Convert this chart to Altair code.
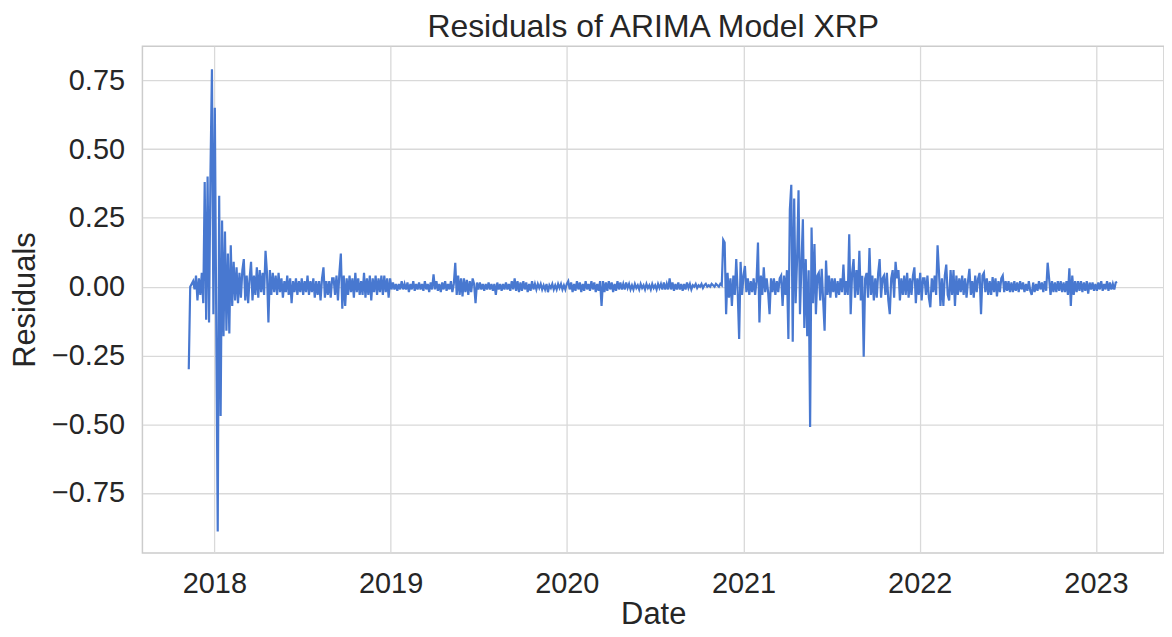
import altair as alt
import pandas as pd

# Residual values, one every 3 days starting 2017-11-09
res_2017_2018 = [
    -0.30, 0.00, 0.01, 0.02, -0.01, 0.04, -0.05, 0.03, -0.03, 0.05,
    -0.06, 0.38, -0.12, 0.40, -0.13, 0.42, 0.79, -0.10, 0.65, -0.15,
    -0.89, 0.33, -0.47, 0.24, -0.18, 0.20, -0.16, 0.12, -0.17, 0.15,
    -0.07, 0.09, -0.05, 0.07, -0.06, 0.05, -0.04, 0.06, 0.10, -0.05,
    0.04, -0.06, 0.03, 0.09, -0.05, 0.04, -0.03, 0.07, -0.04, 0.06,
    -0.02, 0.05, -0.03, 0.13, 0.05, -0.13, 0.06, -0.03, 0.05, -0.02,
    0.04, -0.03, 0.05, -0.02, 0.03, -0.04, 0.02, -0.02, 0.04, -0.03,
    0.03, -0.06, 0.02, -0.02, 0.03, -0.03, 0.02, -0.02, 0.03, -0.03,
    0.02, -0.02, 0.04, -0.03, 0.02, -0.02, 0.03, -0.04, 0.02, -0.03,
    0.02, -0.05, 0.03, 0.07, -0.04, 0.02, -0.03, 0.02, -0.04, 0.03,
    0.03, -0.03, 0.04, -0.05, 0.05, 0.12, -0.08, 0.04, -0.07, 0.03,
    -0.03, 0.04, -0.02, 0.03, -0.04, 0.05, -0.02, 0.03, -0.03, 0.02,
    -0.03, 0.05, -0.04, 0.03, -0.03, 0.04, -0.05, 0.03, -0.02, 0.04,
    -0.03, 0.03, -0.02, 0.04, -0.03, 0.04, -0.02, 0.03, -0.04, 0.03,
]
res_2019 = [
    -0.01, 0.015, -0.01, 0.01, -0.015, 0.01, -0.01, 0.02, -0.01, 0.01,
    -0.01, 0.015, -0.02, 0.01, -0.01, 0.02, -0.015, 0.01, -0.01, 0.015,
    -0.01, 0.01, -0.015, 0.02, -0.01, 0.01, -0.02, 0.015, -0.01, 0.045,
    -0.01, 0.02, -0.015, 0.01, -0.02, 0.015, -0.01, 0.02, -0.015, 0.01,
    -0.01, 0.02, -0.02, 0.01, 0.087, -0.03, 0.04, -0.03, 0.03, -0.035,
    0.03, -0.02, 0.025, -0.03, 0.02, -0.02, 0.03, 0.01, -0.06, 0.015,
    -0.01, 0.015, -0.01, 0.01, -0.015, 0.01, -0.01, 0.015, -0.01, 0.01,
    -0.015, 0.01, -0.03, 0.015, -0.01, 0.01, -0.015, 0.01, -0.01, 0.015,
    -0.01, 0.01, -0.015, 0.02, -0.01, 0.03, -0.015, 0.02, -0.02, 0.015,
    -0.015, 0.02, -0.01, 0.015, -0.02, 0.01, -0.015, 0.02, -0.01, 0.01,
    -0.01, 0.01, -0.005, 0.01, -0.01, 0.005, -0.01, 0.01, -0.02, 0.005,
    -0.005, 0.01, -0.01, 0.005, -0.01, 0.01, -0.005, 0.01, -0.01, 0.005,
]
res_2020 = [
    -0.01, 0.01, 0.02, -0.01, 0.015, -0.02, 0.01, -0.015, 0.02, -0.01,
    0.015, -0.02, 0.01, -0.015, 0.02, -0.01, 0.01, -0.015, 0.02, -0.01,
    0.015, -0.02, 0.01, -0.015, 0.02, -0.07, 0.02, -0.02, 0.015, -0.015,
    0.02, -0.01, 0.015, -0.02, 0.01, -0.015, 0.02, -0.01, 0.015, -0.01,
    0.01, -0.01, 0.015, -0.005, 0.01, -0.01, 0.005, -0.01, 0.01, -0.005,
    0.005, -0.01, 0.01, -0.005, 0.005, -0.01, 0.01, -0.005, 0.005, -0.01,
    0.01, -0.005, 0.005, -0.01, 0.01, -0.005, 0.01, -0.01, 0.015, -0.01,
    0.01, -0.01, 0.03, -0.01, 0.015, -0.015, 0.01, -0.01, 0.015, -0.01,
    0.01, -0.015, 0.01, -0.01, 0.015, -0.005, 0.01, -0.01, 0.005, 0.0,
    0.01, -0.005, 0.005, 0.0, 0.01, -0.005, 0.005, 0.01, 0.0, 0.005,
    0.0, 0.01, 0.005, 0.0, 0.01, 0.005, 0.0, 0.01, 0.005, 0.17,
    0.16, -0.10, 0.05, -0.04, 0.03, -0.07, 0.04, -0.03, 0.10, -0.02,
    -0.19, 0.09, -0.03, 0.04, 0.075, -0.02, 0.03, -0.03, 0.02, -0.02,
]
res_2021 = [
    0.03, -0.03, 0.02, 0.16, -0.13, 0.04, -0.03, 0.07, -0.02, 0.03,
    -0.02, -0.10, 0.03, -0.02, 0.03, -0.03, 0.02, -0.02, 0.03, 0.04,
    -0.07, 0.04, -0.03, 0.06, -0.19, 0.28, 0.37, -0.20, 0.32, -0.06,
    0.10, 0.35, -0.10, 0.08, 0.245, -0.15, 0.10, -0.18, 0.06, -0.51,
    0.215, -0.06, 0.155, -0.10, 0.04, 0.05, -0.05, 0.065, -0.05, -0.16,
    0.095, -0.03, 0.04, -0.04, 0.03, -0.02, 0.03, -0.04, 0.02, -0.03,
    0.03, -0.02, 0.08, -0.03, 0.02, -0.03, 0.19, -0.10, 0.05, 0.10,
    -0.04, 0.06, -0.03, 0.13, -0.05, 0.04, -0.255, 0.03, 0.05, -0.04,
    0.14, -0.03, 0.04, -0.05, 0.03, -0.04, 0.05, 0.10, -0.04, 0.03,
    0.04, -0.03, 0.05, -0.05, -0.10, 0.03, 0.06, -0.04, 0.09, 0.03,
    0.06, -0.05, 0.03, -0.03, 0.04, -0.03, 0.05, -0.04, 0.03, -0.03,
    0.04, 0.07, -0.06, 0.03, -0.03, 0.05, -0.05, 0.03, 0.03, -0.03,
]
res_2022_2023 = [
    0.04, -0.04, -0.075, 0.03, -0.02, 0.04, -0.03, 0.15, 0.05, -0.07,
    0.03, -0.07, 0.04, 0.08, -0.03, -0.05, 0.06, -0.03, 0.06, -0.07,
    0.04, -0.03, 0.03, -0.02, 0.04, -0.03, 0.03, -0.04, 0.02, 0.065,
    -0.03, 0.02, -0.04, 0.04, -0.02, 0.03, 0.05, -0.10, 0.04, 0.05,
    -0.02, 0.03, -0.03, 0.02, -0.03, 0.035, -0.02, 0.03, -0.035, 0.02,
    -0.02, 0.03, 0.04, -0.02, 0.02, -0.015, 0.02, -0.02, 0.015, -0.02,
    0.02, -0.015, 0.015, -0.02, 0.02, -0.01, 0.015, -0.02, 0.01, -0.015,
    0.02, -0.015, -0.03, 0.015, -0.02, 0.01, -0.015, 0.02, -0.01, 0.015,
    -0.02, 0.02, -0.015, 0.087, 0.03, -0.03, 0.02, -0.02, 0.015, -0.02,
    0.02, -0.015, 0.02, -0.02, 0.015, -0.02, 0.02, -0.03, 0.067, -0.07,
    0.04, -0.03, 0.02, -0.02, 0.02, -0.015, 0.02, -0.02, 0.015, -0.015,
    0.02, -0.025, 0.015, -0.01, 0.015, -0.015, 0.01, -0.015, 0.015, -0.01,
    0.02, -0.015, 0.01, -0.01, 0.02, -0.015, 0.015, -0.01, 0.01, -0.01,
    0.015, 0.017,
]

residuals = res_2017_2018 + res_2019 + res_2020 + res_2021 + res_2022_2023
dates = pd.date_range(start="2017-11-09", periods=len(residuals), freq="3D")

year_ticks = [2018, 2019, 2020, 2021, 2022, 2023]
y_ticks = [-0.75, -0.50, -0.25, 0.00, 0.25, 0.50, 0.75]

df = pd.DataFrame({"Date": dates.strftime("%Y-%m-%d"), "Residuals": residuals})

FONT = "Liberation Sans"
TXT = "#262626"

chart = (
    alt.Chart(df)
    .mark_line(color="#4878d0", strokeWidth=2.2)
    .encode(
        x=alt.X(
            "Date:T",
            title="Date",
            scale=alt.Scale(
                domain=[
                    alt.DateTime(year=2017, month=8, date=5),
                    alt.DateTime(year=2023, month=5, date=22),
                ]
            ),
            axis=alt.Axis(
                values=[alt.DateTime(year=y, month=1, date=1) for y in year_ticks],
                format="%Y",
                labelPadding=17,
                titlePadding=1,
            ),
        ),
        y=alt.Y(
            "Residuals:Q",
            title="Residuals",
            scale=alt.Scale(domain=[-0.968, 0.874], nice=False, zero=False),
            axis=alt.Axis(
                values=y_ticks,
                labelExpr="replace(format(datum.value, '.2f'), '-', '\u2212')",
                labelPadding=18,
                titlePadding=10,
            ),
        ),
    )
    .properties(
        width=1026,
        height=509,
        background="white",
        title=alt.TitleParams("Residuals of ARIMA Model XRP", offset=2),
        autosize=alt.AutoSizeParams(type="none"),
        padding={"left": 135, "top": 37, "right": 0, "bottom": 80},
    )
    .configure_view(stroke="#cccccc", strokeWidth=1.5)
    .configure_axis(
        grid=True,
        gridColor="#d9d9d9",
        gridWidth=1.3,
        domain=False,
        ticks=False,
        labelFont=FONT,
        labelFontSize=29,
        labelColor=TXT,
        titleFont=FONT,
        titleFontSize=31,
        titleColor=TXT,
        titleFontWeight="normal",
    )
    .configure_title(font=FONT, fontSize=32, color=TXT, fontWeight="normal")
)

chart.save("out.html", embed_options={"renderer": "svg", "actions": False})
